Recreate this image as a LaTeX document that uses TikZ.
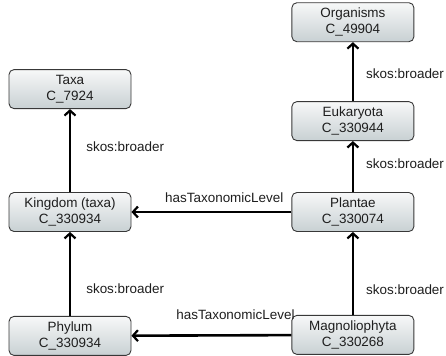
\documentclass[tikz,border=0pt]{standalone}
\usepackage{fontspec}
\setmainfont{Liberation Sans}
\usetikzlibrary{positioning,arrows.meta}

\definecolor{boxtop}{HTML}{F7F8F8}
\definecolor{boxbottom}{HTML}{C8D0D3}
\definecolor{boxline}{HTML}{383838}
\definecolor{labeltext}{HTML}{1E1E1E}

\begin{document}
\begin{tikzpicture}[
    % concept boxes and connectors
    concept_box/.style={rectangle, draw=boxline, line width=0.9pt, rounded corners=5bp,
                       top color=boxtop, bottom color=boxbottom,
                       minimum width=122bp, minimum height=39bp, inner sep=0pt,
                       align=center, text=labeltext,
                       font=\fontsize{13.5}{16}\selectfont},
    link_arrow/.style={-{Straight Barb[length=5bp,width=11bp,line width=2.2bp]},
                       line width=2.6bp, color=black},
    edge_label/.style={font=\fontsize{13.5}{16}\selectfont, text=labeltext, inner sep=2bp}
]

% fixed frame of the picture
\useasboundingbox (0,0) rectangle (446bp,-356bp);

% Left column
\node[concept_box] (kingdom) at (70bp,-212bp) {Kingdom (taxa)\\C\_330934};
\node[concept_box, above=83bp of kingdom] (taxa) {Taxa\\C\_7924};
\node[concept_box, below=84bp of kingdom] (phylum) {Phylum\\C\_330934};

% Right column
\node[concept_box, right=160bp of kingdom] (plantae) {Plantae\\C\_330074};
\node[concept_box, above=51bp of plantae] (eukaryota) {Eukaryota\\C\_330944};
\node[concept_box, above=59bp of eukaryota] (organisms) {Organisms\\C\_49904};
\node[concept_box, below=83bp of plantae] (magnoliophyta) {Magnoliophyta\\C\_330268};

% skos:broader links
\draw[link_arrow] (kingdom) -- node[edge_label, pos=0.55, right=13bp] {skos:broader} (taxa);
\draw[link_arrow] (phylum) -- node[edge_label, pos=0.32, right=13bp] {skos:broader} (kingdom);
\draw[link_arrow] (eukaryota) -- node[edge_label, pos=0.47, right=10bp] {skos:broader} (organisms);
\draw[link_arrow] (plantae) -- node[edge_label, pos=0.55, right=10bp] {skos:broader} (eukaryota);
\draw[link_arrow] (magnoliophyta) -- node[edge_label, pos=0.31, right=10bp] {skos:broader} (plantae);

% hasTaxonomicLevel links
\draw[link_arrow] (plantae) -- node[edge_label, pos=0.42, above=6bp] {hasTaxonomicLevel} (kingdom);
\draw[link_arrow] (magnoliophyta) -- node[edge_label, pos=0.35, above=12bp] {hasTaxonomicLevel} (phylum);

\end{tikzpicture}
\end{document}
